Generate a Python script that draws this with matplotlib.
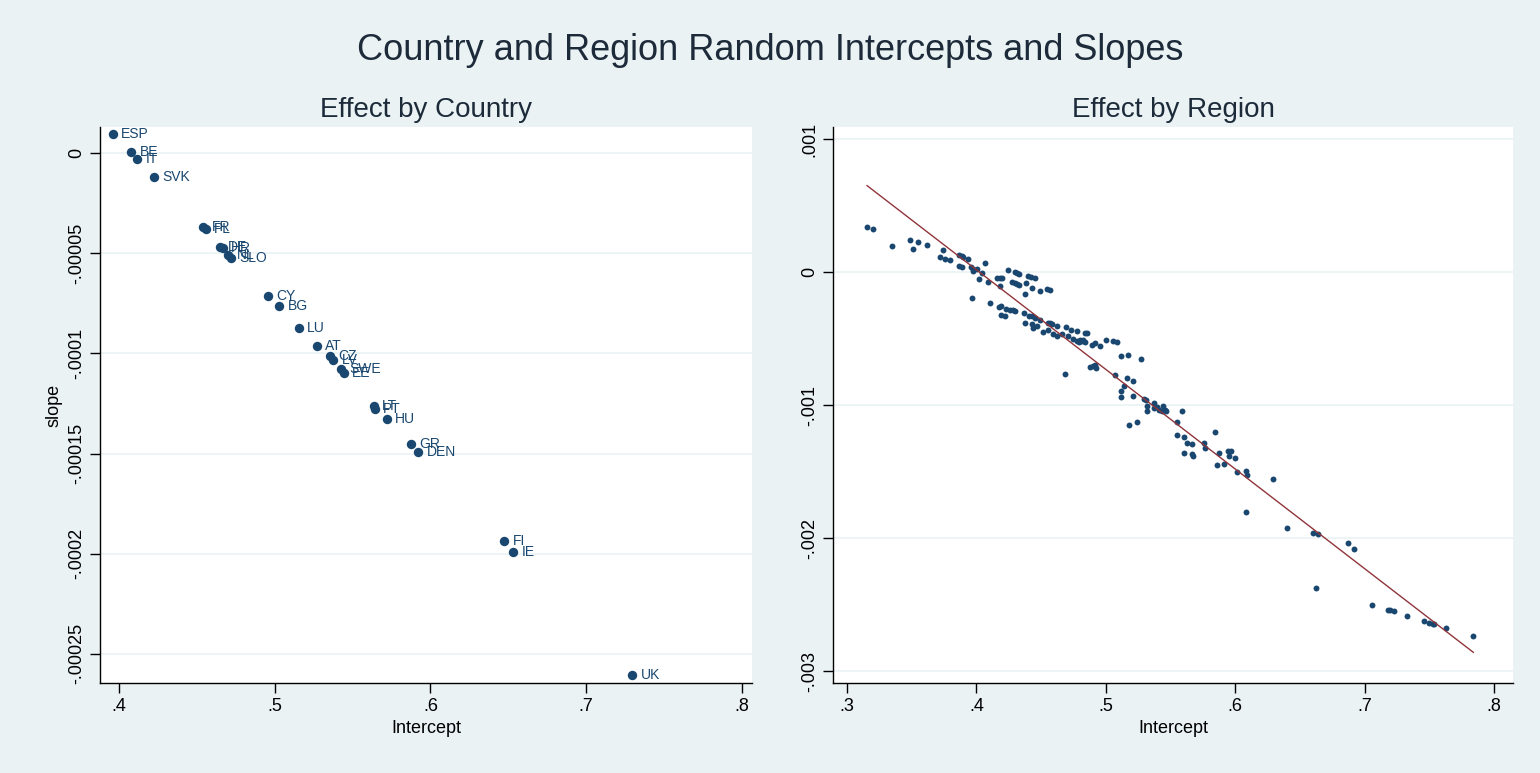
import numpy as np
import matplotlib
matplotlib.use("Agg")
import matplotlib.pyplot as plt

plt.rcParams['font.family'] = ['Liberation Sans', 'DejaVu Sans']

# country-level random effects: intercept and slope
countries = ['ESP', 'BE', 'IT', 'SVK', 'FR', 'PL', 'DE', 'HR', 'NL', 'SLO',
             'CY', 'BG', 'LU', 'AT', 'CZ', 'LV', 'SWE', 'EE', 'LT', 'PT',
             'HU', 'GR', 'DEN', 'FI', 'IE', 'UK']
country_int = [0.396, 0.408, 0.4116, 0.4225, 0.4541, 0.4557, 0.4648, 0.4668, 0.4702, 0.4722,
               0.4959, 0.503, 0.5156, 0.527, 0.5355, 0.5376, 0.5427, 0.5445, 0.5635, 0.5644,
               0.5719, 0.5875, 0.5922, 0.6474, 0.6532, 0.7296]
country_slope = [9.7e-6, 0.5e-6, -3.1e-6, -11.7e-6, -36.7e-6, -38.0e-6, -46.7e-6, -47.2e-6, -50.6e-6, -52.5e-6,
                 -71.4e-6, -76.5e-6, -87.4e-6, -96.3e-6, -101.5e-6, -103.5e-6, -107.6e-6, -109.6e-6, -126.0e-6, -127.7e-6,
                 -132.8e-6, -145.4e-6, -149.3e-6, -193.9e-6, -199.0e-6, -260.4e-6]

# region-level random effects (slope in units of 1e-3)
region_int = [0.3155, 0.3204, 0.3345, 0.3489, 0.3513, 0.3549, 0.3616, 0.3739, 0.3721, 0.3760,
              0.3799, 0.3868, 0.3886, 0.3899, 0.3935, 0.3868, 0.3889, 0.3956, 0.3971, 0.3976,
              0.4002, 0.4043, 0.4069, 0.4020, 0.4090, 0.3963, 0.4108, 0.4162, 0.4182, 0.4195,
              0.4182, 0.4242, 0.4298, 0.4316, 0.4332, 0.4275, 0.4298, 0.4316, 0.4332, 0.4401,
              0.4419, 0.4453, 0.4386, 0.4432, 0.4492, 0.4546, 0.4566, 0.4378, 0.4175, 0.4190,
              0.4226, 0.4260, 0.4280, 0.4301, 0.4193, 0.4221, 0.4368, 0.4409, 0.4427, 0.4453,
              0.4492, 0.4376, 0.4427, 0.4440, 0.4471, 0.4517, 0.4553, 0.4569, 0.4587, 0.4556,
              0.4595, 0.4625, 0.4620, 0.4659, 0.4692, 0.4710, 0.4685,
              0.4731, 0.4775, 0.4839, 0.4852, 0.4744, 0.4775, 0.4793, 0.4801, 0.4814, 0.4826,
              0.4839, 0.4891, 0.4917, 0.4955, 0.5002, 0.5053, 0.5089, 0.5115, 0.5174, 0.5269,
              0.4878, 0.4898, 0.4917, 0.4924, 0.5071, 0.5161, 0.5213, 0.5141, 0.5115, 0.5115,
              0.5208, 0.5295, 0.5308, 0.5316, 0.5316, 0.5373, 0.5373, 0.5393, 0.5414, 0.5432,
              0.5445, 0.5458, 0.5465, 0.5586, 0.5548, 0.5182, 0.5239, 0.5548, 0.5604, 0.5625,
              0.5664, 0.5604, 0.5664, 0.5676, 0.5759, 0.5769, 0.5844, 0.5875, 0.5947, 0.5965,
              0.5952, 0.6001, 0.5857, 0.5913, 0.6011, 0.6083, 0.6089, 0.6290,
              0.6086, 0.6403, 0.6604, 0.6642, 0.6874, 0.6921, 0.6622, 0.7055, 0.7178, 0.7196,
              0.7230, 0.7325, 0.7459, 0.7500, 0.7526, 0.7539, 0.7629, 0.7840]
region_slope_e3 = [0.337, 0.327, 0.196, 0.244, 0.176, 0.224, 0.206, 0.169, 0.111, 0.101,
                   0.091, 0.128, 0.121, 0.116, 0.101, 0.046, 0.035, 0.035, 0.020, 0.008,
                   0.025, -0.010, 0.066, -0.055, -0.075, -0.196, -0.236, -0.048, -0.048, -0.048,
                   -0.105, 0.018, -0.002, -0.010, -0.012, -0.075, -0.083, -0.093, -0.100, -0.030,
                   -0.040, -0.048, -0.085, -0.123, -0.141, -0.130, -0.138, -0.161, -0.266, -0.256,
                   -0.274, -0.286, -0.286, -0.291, -0.322, -0.332, -0.311, -0.332, -0.332, -0.342,
                   -0.357, -0.382, -0.387, -0.422, -0.402, -0.452, -0.382, -0.382, -0.389, -0.432,
                   -0.462, -0.407, -0.482, -0.462, -0.412, -0.477, -0.767,
                   -0.432, -0.445, -0.457, -0.457, -0.503, -0.520, -0.528, -0.508, -0.520, -0.513,
                   -0.528, -0.545, -0.533, -0.553, -0.508, -0.520, -0.528, -0.628, -0.621, -0.651,
                   -0.714, -0.709, -0.701, -0.721, -0.772, -0.797, -0.817, -0.855, -0.897, -0.940,
                   -0.930, -0.955, -0.960, -1.005, -1.043, -0.985, -1.023, -1.015, -1.036, -1.048,
                   -1.005, -1.036, -1.043, -1.041, -1.129, -1.149, -1.129, -1.222, -1.237, -1.287,
                   -1.294, -1.362, -1.370, -1.380, -1.287, -1.325, -1.201, -1.362, -1.342, -1.342,
                   -1.382, -1.400, -1.453, -1.443, -1.503, -1.498, -1.526, -1.558,
                   -1.802, -1.923, -1.961, -1.971, -2.036, -2.084, -2.373, -2.506, -2.541, -2.544,
                   -2.551, -2.589, -2.627, -2.637, -2.647, -2.645, -2.675, -2.740]

x_ticks_country = [0.4, 0.5, 0.6, 0.7, 0.8]
y_ticks_country = [0, -0.00005, -0.0001, -0.00015, -0.0002, -0.00025]
x_ticks_region = [0.3, 0.4, 0.5, 0.6, 0.7, 0.8]
y_ticks_region = [0.001, 0, -0.001, -0.002, -0.003]

navy = '#1a476f'
maroon = '#90353b'
bg = '#eaf2f3'


def stata_label(v):
    s = ('%.5f' % v).rstrip('0').rstrip('.')
    s = s.replace('0.', '.')
    return '0' if s in ('', '-', '-0') else s


def style_axes(ax):
    ax.set_facecolor('white')
    for side in ('top', 'right'):
        ax.spines[side].set_visible(False)
    for side in ('left', 'bottom'):
        ax.spines[side].set_color('black')
        ax.spines[side].set_linewidth(1.0)
    ax.tick_params(direction='out', length=7, width=1, labelsize=13, color='black')
    ax.grid(axis='y', color=bg, linewidth=1.2)
    ax.set_axisbelow(True)


fig = plt.figure(figsize=(15.4, 7.73), dpi=100, facecolor=bg)
fig.suptitle('Country and Region Random Intercepts and Slopes', fontsize=26,
             y=0.957, color='#1c2a3a')

ax1 = fig.add_axes([0.0649, 0.1164, 0.4234, 0.7193])
ax2 = fig.add_axes([0.5409, 0.1164, 0.4416, 0.7193])

# left: effect by country
style_axes(ax1)
ax1.scatter(country_int, country_slope, s=46, color=navy, zorder=3, linewidths=0)
for name, xv, yv in zip(countries, country_int, country_slope):
    ax1.annotate(name, (xv, yv), xytext=(6, 0), textcoords='offset points',
                 va='center', ha='left', fontsize=10, color=navy, zorder=4)
ax1.set_xlim(0.3878, 0.8064)
ax1.set_ylim(-2.646e-4, 1.31e-5)
ax1.set_xticks(x_ticks_country)
ax1.set_xticklabels([stata_label(v) for v in x_ticks_country])
ax1.set_yticks(y_ticks_country)
ax1.set_yticklabels([stata_label(v) for v in y_ticks_country], rotation=90, va='center')
ax1.set_xlabel('Intercept', fontsize=13)
ax1.set_ylabel('slope', fontsize=13)
ax1.set_title('Effect by Country', fontsize=20, pad=7, color='#1c2a3a')

# right: effect by region with linear fit
style_axes(ax2)
rx = np.array(region_int)
ry = np.array(region_slope_e3) * 1e-3
ax2.scatter(rx, ry, s=18, color=navy, zorder=3, linewidths=0)
b, a = np.polyfit(rx, ry, 1)
fx = np.array([rx.min(), rx.max()])
ax2.plot(fx, a + b * fx, color=maroon, linewidth=1.0, zorder=4)
ax2.set_xlim(0.2892, 0.8147)
ax2.set_ylim(-0.00309, 0.001091)
ax2.set_xticks(x_ticks_region)
ax2.set_xticklabels([stata_label(v) for v in x_ticks_region])
ax2.set_yticks(y_ticks_region)
ax2.set_yticklabels([stata_label(v) for v in y_ticks_region], rotation=90, va='center')
ax2.set_xlabel('Intercept', fontsize=13)
ax2.set_title('Effect by Region', fontsize=20, pad=7, color='#1c2a3a')

fig.savefig('out.png', dpi=100, facecolor=bg)
